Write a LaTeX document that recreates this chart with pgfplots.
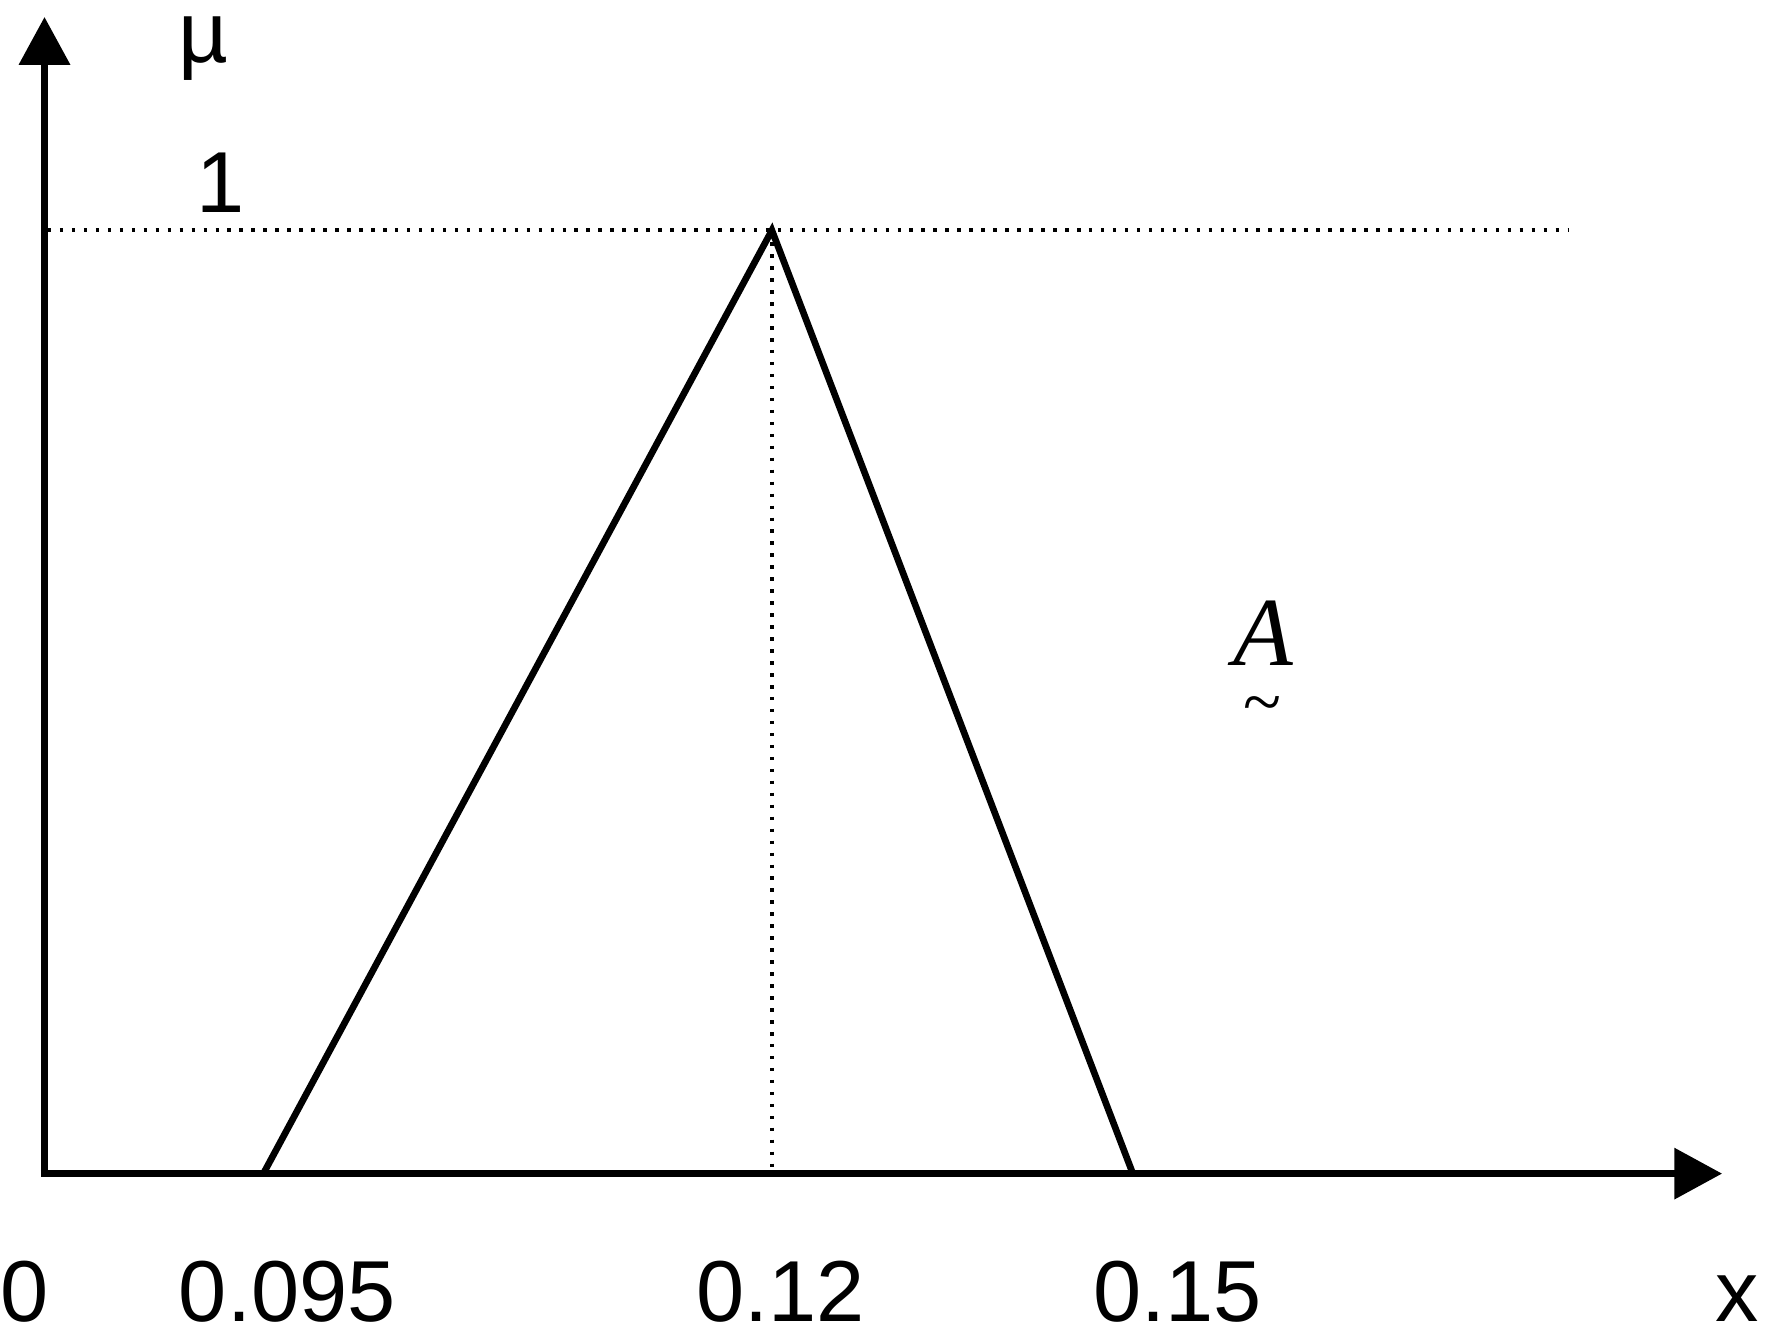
\documentclass[border=0pt]{standalone}
\usepackage{fontspec}
\setmainfont{Liberation Sans}
\newfontfamily\timesf{Liberation Serif}
\usepackage{pgfplots}
\pgfplotsset{compat=1.18}
\usetikzlibrary{arrows.meta}

\begin{document}
\begin{tikzpicture}
\begin{axis}[
    width=17.69cm, height=13.44cm,
    scale only axis,
    hide axis,
    clip=false,
    xmin=0, xmax=1769,
    ymin=-0.1765, ymax=1.2442,
]
% keep the full frame as bounding box
\path (rel axis cs:0,0) rectangle (rel axis cs:1,1);

% axes with arrow heads
\draw[line width=2.1pt, -{Triangle[length=4.8mm, width=5mm]}]
    (axis cs:35.8,0) -- (axis cs:1722,0);
\draw[line width=2.1pt, -{Triangle[length=4.8mm, width=5mm]}]
    (axis cs:39.5,0) -- (axis cs:39.5,1.2262);

% guide lines
\addplot[black, line width=0.4mm, dash pattern=on 0.35mm off 0.85mm]
    coordinates {(43,1) (1568,1)};
\addplot[black, line width=0.4mm, dash pattern=on 0.35mm off 0.85mm]
    coordinates {(769,1) (769,0)};

% triangular membership function
\addplot[black, line width=1.9pt, line join=miter] coordinates {
    (259,0) (769,1) (1131,0)
};

% labels
\begin{scope}[every node/.style={font=\fontsize{24.7}{30}\selectfont, anchor=base, inner sep=0pt}]
\node at (axis cs:19,-0.1564) {0};
\node at (axis cs:283,-0.1564) {0.095};
\node at (axis cs:778,-0.1564) {0.12};
\node at (axis cs:1176,-0.1564) {0.15};
\node at (axis cs:1737,-0.1564) {x};
\node at (axis cs:199,1.1776) {µ};
\node at (axis cs:216,1.0190) {1};
\end{scope}
\node[anchor=base, inner sep=0pt, font=\timesf\itshape\fontsize{27.9}{32}\selectfont]
    at (axis cs:1262,0.5391) {A};
\node[inner sep=0pt, font=\timesf\fontsize{20}{22}\selectfont]
    at (axis cs:1261,0.4900) {\textasciitilde};
\end{axis}
\end{tikzpicture}
\end{document}
